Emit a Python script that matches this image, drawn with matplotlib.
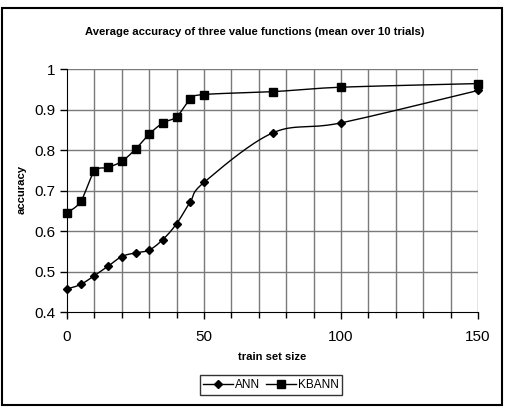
import numpy as np
import matplotlib
matplotlib.use("Agg")
import matplotlib.pyplot as plt
from matplotlib.patches import Rectangle
from matplotlib.lines import Line2D

plt.rcParams['font.family'] = ['Liberation Sans', 'DejaVu Sans']

train_size = [0, 5, 10, 15, 20, 25, 30, 35, 40, 45, 50, 75, 100, 150]
ann = [0.457, 0.468, 0.490, 0.513, 0.537, 0.546, 0.553, 0.579, 0.618, 0.672, 0.720, 0.842, 0.867, 0.947]
kbann = [0.645, 0.673, 0.747, 0.757, 0.772, 0.802, 0.839, 0.867, 0.882, 0.925, 0.937, 0.944, 0.955, 0.964]

title = "Average accuracy of three value functions (mean over 10 trials)"
xlabel = "train set size"
ylabel = "accuracy"


def smooth(xs, ys, n=20):
    x = np.asarray(xs, float)
    y = np.asarray(ys, float)
    P = np.column_stack([x, y])
    P = np.vstack([P[0], P, P[-1]])
    out = []
    t = np.linspace(0, 1, n, endpoint=False)
    for i in range(1, len(P) - 2):
        p0, p1, p2, p3 = P[i - 1], P[i], P[i + 1], P[i + 2]
        c1 = p1 + (p2 - p0) / 6.0
        c2 = p2 - (p3 - p1) / 6.0
        seg = ((1 - t) ** 3)[:, None] * p1 + (3 * (1 - t) ** 2 * t)[:, None] * c1 \
            + (3 * (1 - t) * t ** 2)[:, None] * c2 + (t ** 3)[:, None] * p2
        out.append(seg)
    out.append(P[-2][None, :])
    out = np.vstack(out)
    return out[:, 0], out[:, 1]


fig = plt.figure(figsize=(5.10, 4.08), dpi=100)
fig.patches.append(Rectangle((2 / 510, 3 / 408), 500 / 510, 397 / 408, transform=fig.transFigure,
                             fill=False, edgecolor='black', linewidth=1.5))

ax = fig.add_axes([67 / 510, 1 - 312 / 408, 411 / 510, 243 / 408])
ax.set_xlim(0, 150)
ax.set_ylim(0.4, 1.0)

for xv in range(10, 151, 10):
    ax.axvline(xv, color='#7a7a7a', linewidth=1.0, zorder=1)
for yv in np.arange(0.5, 1.001, 0.1):
    ax.axhline(yv, color='#7a7a7a', linewidth=1.0, zorder=1)

sx, sy = smooth(train_size, ann)
ax.plot(sx, sy, color='black', linewidth=1.0, zorder=3, clip_on=False)
ax.plot(train_size, ann, linestyle='none', marker='D', markersize=4.5, color='black', zorder=4, clip_on=False)
sx, sy = smooth(train_size, kbann)
ax.plot(sx, sy, color='black', linewidth=1.0, zorder=3, clip_on=False)
ax.plot(train_size, kbann, linestyle='none', marker='s', markersize=5.3, color='black', zorder=4, clip_on=False)

for s in ['top', 'right']:
    ax.spines[s].set_visible(False)
ax.spines['left'].set_color('black')
ax.spines['bottom'].set_color('black')

ax.set_xticks([0, 50, 100, 150])
ax.set_xticks(range(0, 151, 10), minor=True)
ax.set_yticks(np.arange(0.4, 1.001, 0.1))
ax.set_yticklabels(['0.4', '0.5', '0.6', '0.7', '0.8', '0.9', '1'])
ax.tick_params(axis='both', which='major', labelsize=11, direction='out', length=5, width=1, colors='black')
ax.tick_params(axis='x', which='minor', direction='out', length=4, width=1)
ax.tick_params(axis='x', which='major', pad=8)

fig.text(255 / 510, 1 - 32 / 408, title, ha='center', va='center', fontsize=8.1, fontweight='bold')
fig.text(272 / 510, 1 - 357 / 408, xlabel, ha='center', va='center', fontsize=8.1, fontweight='bold')
fig.text(22 / 510, 1 - 190 / 408, ylabel, ha='center', va='center', fontsize=8.1, fontweight='bold', rotation=90)

handles = [Line2D([], [], color='black', marker='D', markersize=4.5, linewidth=1),
           Line2D([], [], color='black', marker='s', markersize=5.3, linewidth=1)]
leg = fig.legend(handles, ['ANN', 'KBANN'], loc='center', bbox_to_anchor=(271 / 510, 1 - 385 / 408),
                 ncol=2, fontsize=8.5, frameon=True, fancybox=False, edgecolor='black',
                 handlelength=2.5, handletextpad=0.2, columnspacing=0.5, borderpad=0.3)
leg.get_frame().set_linewidth(1.0)

fig.savefig('out.png', dpi=100)
